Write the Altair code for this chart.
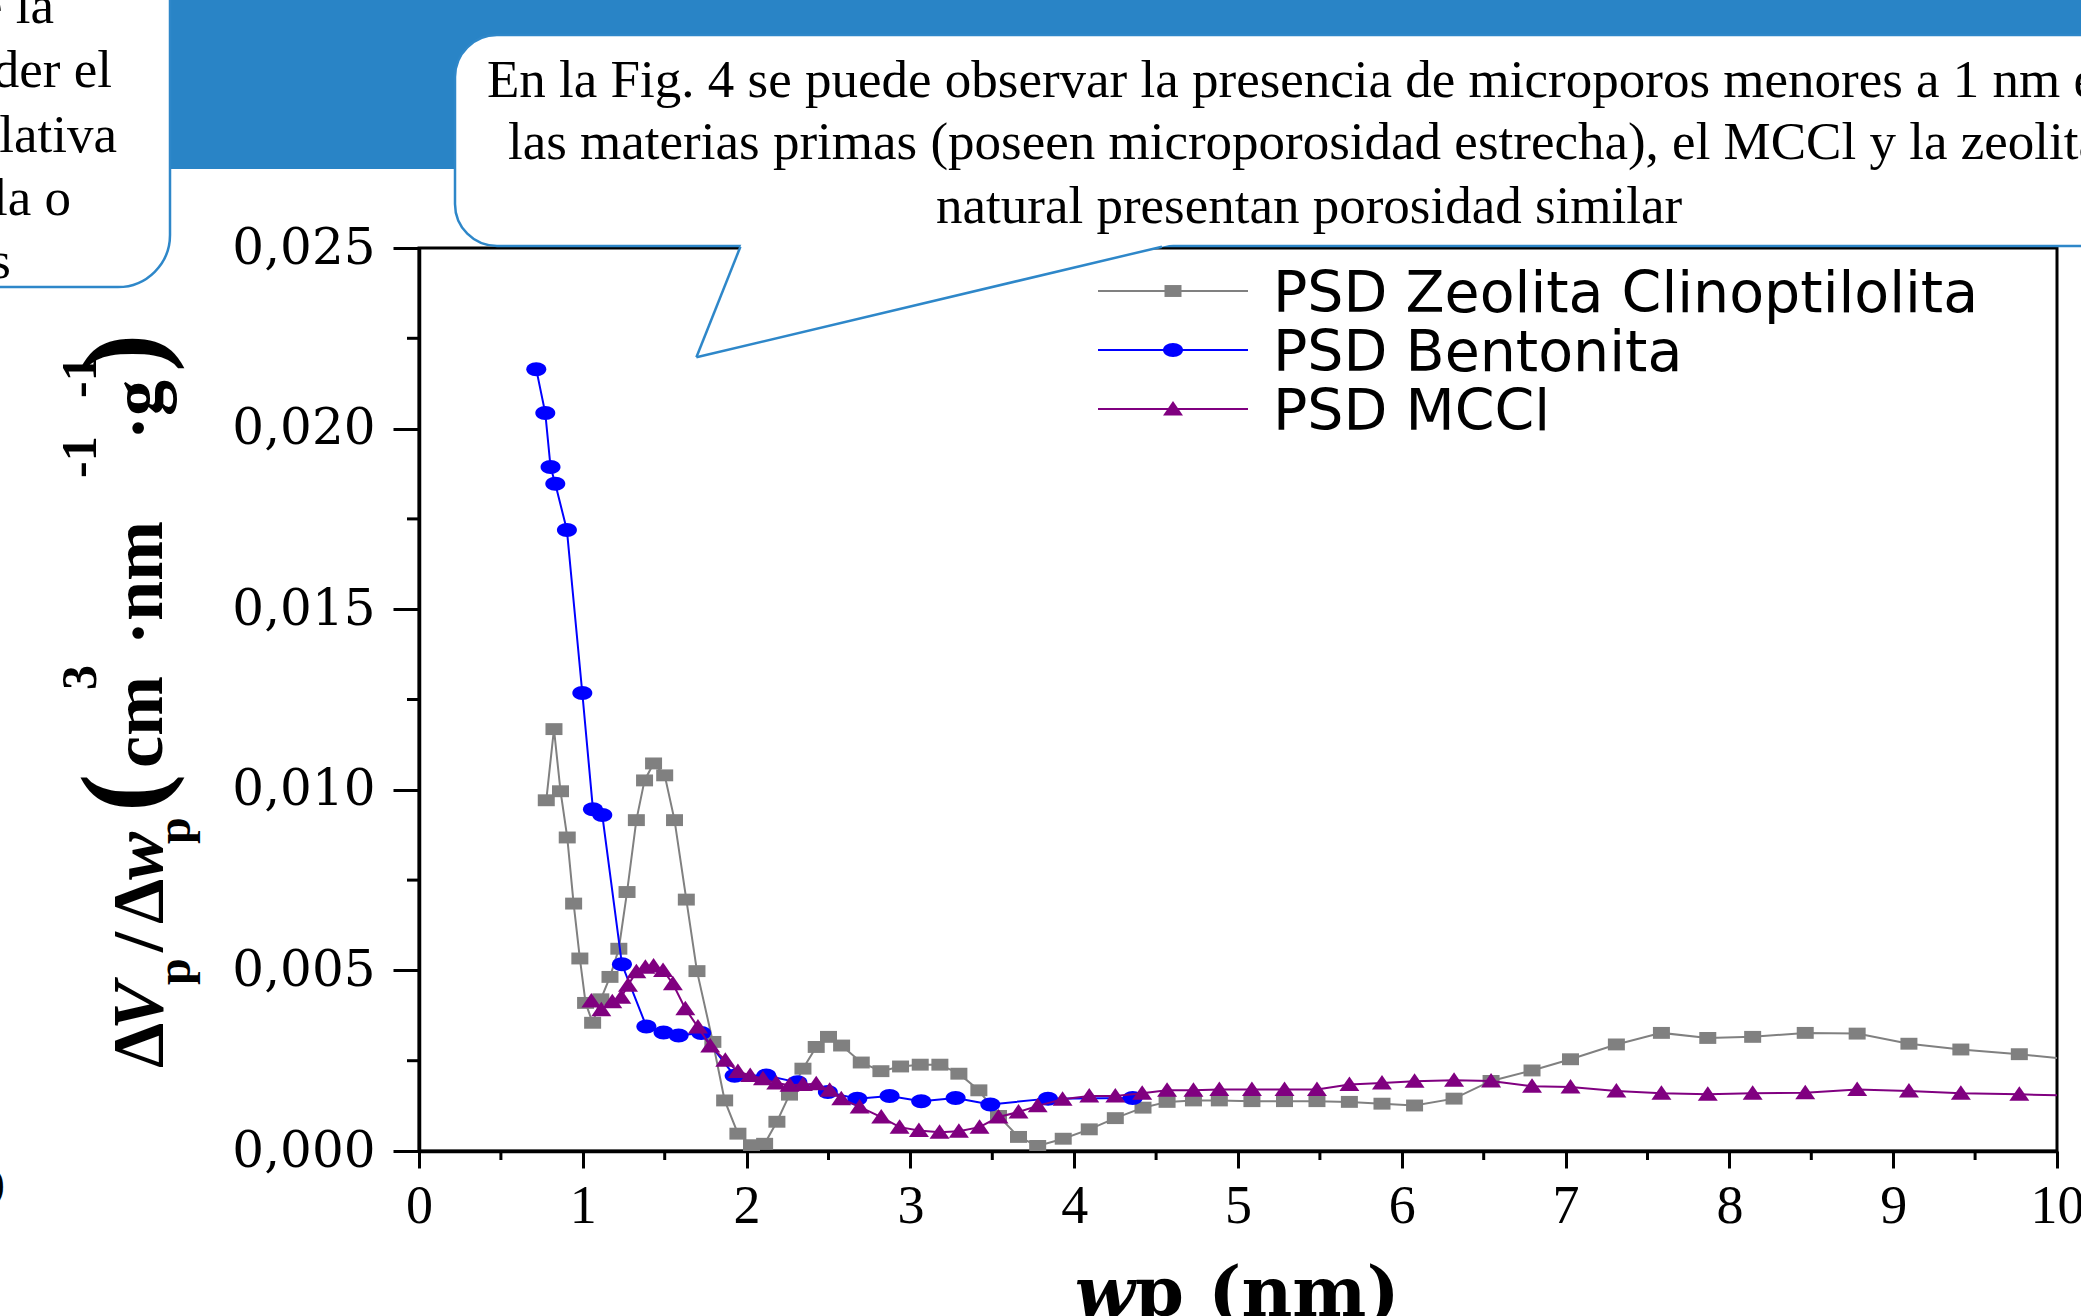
import altair as alt
import pandas as pd

# Pore size distribution (dV/dw) of the three materials
zeolita_wp = [0.777, 0.824, 0.864, 0.905, 0.944, 0.982, 1.017, 1.06, 1.11, 1.166, 1.22, 1.27, 1.327,
              1.377, 1.432, 1.50, 1.56, 1.632, 1.697, 1.794, 1.866, 1.947, 2.03, 2.11, 2.185, 2.262,
              2.344, 2.425, 2.50, 2.58, 2.70, 2.82, 2.94, 3.06, 3.18, 3.296, 3.418, 3.538, 3.66, 3.777,
              3.933, 4.092, 4.251, 4.42, 4.567, 4.728, 4.886, 5.085, 5.284, 5.482, 5.68, 5.879, 6.078,
              6.319, 6.545, 6.795, 7.03, 7.31, 7.585, 7.868, 8.142, 8.463, 8.78, 9.096, 9.413, 9.77, 10.12]
zeolita_dv = [0.00971, 0.01168, 0.00996, 0.00868, 0.00685, 0.00533, 0.0041, 0.00355, 0.0042, 0.00482,
              0.0056, 0.00717, 0.00916, 0.01026, 0.01073, 0.0104, 0.00916, 0.00696, 0.00498, 0.00302,
              0.0014, 0.00048, 0.00016, 0.0002, 0.00081, 0.00156, 0.00228, 0.00288, 0.00316, 0.00292,
              0.00245, 0.00221, 0.00234, 0.00239, 0.00239, 0.00214, 0.00168, 0.00097, 0.00039, 0.00014,
              0.00034, 0.0006, 0.00091, 0.0012, 0.00136, 0.0014, 0.0014, 0.00138, 0.00138, 0.00138,
              0.00136, 0.00131, 0.00126, 0.00145, 0.00194, 0.00223, 0.00254, 0.00295, 0.00327, 0.00313,
              0.00316, 0.00327, 0.00325, 0.00297, 0.00281, 0.00268, 0.00252]

bentonita_wp = [0.716, 0.771, 0.803, 0.832, 0.903, 0.997, 1.062, 1.119, 1.239, 1.388, 1.493, 1.585,
                1.723, 1.927, 2.12, 2.31, 2.496, 2.676, 2.873, 3.066, 3.276, 3.488, 3.84, 4.357]
bentonita_dv = [0.02164, 0.02043, 0.01894, 0.01847, 0.01719, 0.01268, 0.00946, 0.0093, 0.00517,
                0.00345, 0.00328, 0.0032, 0.00327, 0.00208, 0.00209, 0.0019, 0.00163, 0.00145,
                0.00152, 0.00138, 0.00147, 0.00129, 0.00145, 0.00147]

mccl_wp = [1.052, 1.113, 1.18, 1.235, 1.276, 1.327, 1.382, 1.432, 1.49, 1.55, 1.626, 1.703, 1.778,
           1.87, 1.947, 2.022, 2.1, 2.181, 2.262, 2.344, 2.425, 2.507, 2.578, 2.69, 2.822, 2.934,
           3.052, 3.178, 3.296, 3.422, 3.538, 3.66, 3.777, 3.929, 4.092, 4.251, 4.415, 4.567, 4.728,
           4.886, 5.085, 5.284, 5.482, 5.68, 5.879, 6.078, 6.319, 6.545, 6.795, 7.03, 7.31, 7.585,
           7.868, 8.142, 8.463, 8.78, 9.096, 9.413, 9.77, 10.1]
mccl_dv = [0.00415, 0.00391, 0.00413, 0.00426, 0.00459, 0.00496, 0.00509, 0.00512, 0.005, 0.00463,
           0.00394, 0.00343, 0.00291, 0.00251, 0.0022, 0.00209, 0.002, 0.00188, 0.00182, 0.00184,
           0.00186, 0.00168, 0.00145, 0.00122, 0.00094, 0.00066, 0.00057, 0.00052, 0.00055, 0.00066,
           0.00094, 0.00108, 0.00125, 0.00143, 0.00152, 0.00152, 0.0016, 0.00168, 0.00168, 0.0017,
           0.0017, 0.0017, 0.0017, 0.00184, 0.00188, 0.00193, 0.00196, 0.00194, 0.00179, 0.00177,
           0.00166, 0.0016, 0.00157, 0.0016, 0.00161, 0.0017, 0.00166, 0.0016, 0.00157, 0.00153]

series_names = ["PSD Zeolita Clinoptilolita", "PSD Bentonita", "PSD MCCl"]
series_colors = ["#808080", "#0000FF", "#800080"]

x_ticks = list(range(0, 11))
x_minor = [i + 0.5 for i in range(10)]
y_ticks = [0.0, 0.005, 0.010, 0.015, 0.020, 0.025]
y_minor = [0.0025, 0.0075, 0.0125, 0.0175, 0.0225]

callout_lines = [
    "En la Fig. 4 se puede observar la presencia de microporos menores a 1 nm en",
    "las materias primas (poseen microporosidad estrecha), el MCCl y la zeolita",
    "natural presentan porosidad similar",
]
side_lines = ["e la", "der el", "lativa", "la o", "s"]

# plot area geometry (pixels)
W, H = 1638, 903
OX, OY = 419, 248
BLUE_BAND = "#2984C6"
BORDER = "#2E87C9"

SQUARE = "M-1,-0.7L1,-0.7L1,0.7L-1,0.7Z"
ELLIPSE = ("M-1,0C-1,-0.3866,-0.5523,-0.7,0,-0.7C0.5523,-0.7,1,-0.3866,1,0"
           "C1,0.3866,0.5523,0.7,0,0.7C-0.5523,0.7,-1,0.3866,-1,0Z")
TRIANGLE = "M0,-0.8L1,0.65L-1,0.65Z"
shapes = [SQUARE, ELLIPSE, TRIANGLE]
sizes = [289, 400, 400]

X = alt.X("wp:Q", scale=alt.Scale(domain=[0, 10], nice=False, zero=False),
          axis=alt.Axis(values=x_ticks, title=None, grid=False, format="d",
                        labelFont="Liberation Serif", labelFontSize=54, labelColor="black",
                        labelPadding=11, labelFlush=False, labelOverlap=False, labelBound=False,
                        tickSize=17, tickWidth=3, tickColor="black",
                        domainColor="black", domainWidth=3.5))
Y = alt.Y("dv:Q", scale=alt.Scale(domain=[0, 0.025], nice=False, zero=True),
          axis=alt.Axis(values=y_ticks, title=None, grid=False,
                        labelExpr="replace(format(datum.value, '.3f'), '.', ',')",
                        labelFont="DejaVu Serif", labelFontSize=50, labelColor="black",
                        labelPadding=18, labelFlush=False, labelOverlap=False,
                        tickSize=26, tickWidth=3, tickColor="black",
                        domainColor="black", domainWidth=3.5))


def one_row():
    return pd.DataFrame({"k": [0]})


def text_at(txt, x, y, **kw):
    return alt.Chart(pd.DataFrame({"t": [txt]})).mark_text(**kw).encode(
        x=alt.value(x), y=alt.value(y), text="t:N")


def rect_at(x, x2, y, y2, **kw):
    return alt.Chart(one_row()).mark_rect(**kw).encode(
        x=alt.value(x), x2=alt.value(x2), y=alt.value(y), y2=alt.value(y2))


def segment(x, y, x2, y2, **kw):
    return alt.Chart(one_row()).mark_rule(**kw).encode(
        x=alt.value(x), y=alt.value(y), x2=alt.value(x2), y2=alt.value(y2))


layers = []

# slide header band and the side text box
layers.append(rect_at(-OX, 2081 - OX, -OY, 169 - OY, color=BLUE_BAND))
layers.append(rect_at(-700, 170 - OX, -600, 287 - OY, fill="white", stroke=BORDER,
                      strokeWidth=2.5, cornerRadius=52))
for i, s in enumerate(side_lines):
    bx = [54, 112, 117, 71, 11][i]
    by = [23, 87, 152, 215, 278][i]
    layers.append(text_at(s, bx - OX, by - OY, font="Liberation Serif", fontSize=53,
                          align="right", baseline="alphabetic", color="black"))
layers.append(text_at("0", 6 - OX, 1190 - OY, font="DejaVu Serif", fontSize=46,
                      align="right", baseline="middle", color="black"))

# minor ticks
layers.append(alt.Chart(pd.DataFrame({"wp": x_minor})).mark_rule(color="black", strokeWidth=3)
              .encode(x=X, y=alt.value(H), y2=alt.value(H + 9)))
layers.append(alt.Chart(pd.DataFrame({"dv": y_minor})).mark_rule(color="black", strokeWidth=3)
              .encode(y=Y, x=alt.value(-12), x2=alt.value(0)))

# data series
series = [(zeolita_wp, zeolita_dv, True), (bentonita_wp, bentonita_dv, False), (mccl_wp, mccl_dv, True)]
for k, (xs, ys, clip) in enumerate(series):
    df = pd.DataFrame({"wp": xs, "dv": ys, "serie": series_names[k]})
    layers.append(alt.Chart(df).mark_line(color=series_colors[k], strokeWidth=2, clip=clip)
                  .encode(x=X, y=Y))
    layers.append(alt.Chart(df).mark_point(shape=shapes[k], size=sizes[k], filled=True,
                                           color=series_colors[k], opacity=1, strokeWidth=0,
                                           clip=clip)
                  .encode(x=X, y=Y))

# legend
row_y = [291, 350, 409]
text_y = [312, 371, 430]
for k in range(3):
    ry = row_y[k] - OY
    layers.append(segment(1098 - OX, ry, 1248 - OX, ry, color=series_colors[k], strokeWidth=2))
    layers.append(alt.Chart(one_row()).mark_point(shape=shapes[k], size=sizes[k], filled=True,
                                                  color=series_colors[k], opacity=1, strokeWidth=0)
                  .encode(x=alt.value(1173 - OX), y=alt.value(ry)))
    layers.append(text_at(series_names[k], 1273 - OX, text_y[k] - OY, font="DejaVu Sans",
                          fontSize=57, align="left", baseline="alphabetic", color="black"))

# speech-bubble callout over the plot
layers.append(rect_at(455 - OX, 2400 - OX, 35 - OY, 246 - OY, fill="white", stroke=BORDER,
                      strokeWidth=2.5, cornerRadius=42))
layers.append(alt.Chart(one_row()).mark_point(shape="M324.1,-8L277.4,109.3L771.2,-8Z", size=4,
                                              filled=True, color="white", opacity=1, strokeWidth=0)
              .encode(x=alt.value(0), y=alt.value(0)))
layers.append(segment(321.4, -1.3, 277.4, 109.3, color=BORDER, strokeWidth=2.5))
layers.append(segment(277.4, 109.3, 743, -1.3, color=BORDER, strokeWidth=2.5))
for txt, lx, ly in zip(callout_lines, [487, 508, 936], [97, 159, 223]):
    layers.append(text_at(txt, lx - OX, ly - OY, font="Liberation Serif", fontSize=53,
                          align="left", baseline="alphabetic", color="black"))

# y-axis title, built piece by piece (sub/superscripts)
ytitle = [
    ("Δ", 72, "normal", 162, 1068),
    ("V", 72, "italic", 162, 1030),
    ("p", 48, "normal", 190, 985),
    ("/", 72, "normal", 162, 952),
    ("Δ", 72, "normal", 162, 924),
    ("w", 72, "italic", 162, 880),
    ("p", 48, "normal", 190, 844),
    ("(", 115, "normal", 160, 812),
    ("cm", 72, "normal", 162, 768),
    ("3", 50, "normal", 96, 690),
    ("·nm", 72, "normal", 162, 645),
    ("-1", 50, "normal", 96, 478),
    ("·g", 72, "normal", 162, 440),
    ("-1", 50, "normal", 96, 398),
    (")", 115, "normal", 160, 372),
]
for txt, fs, style, bx, sy in ytitle:
    layers.append(text_at(txt, bx - OX, sy - OY, font="Liberation Serif", fontSize=fs,
                          fontWeight="bold", fontStyle=style, angle=270, align="left",
                          baseline="alphabetic", color="black"))

# x-axis title
layers.append(text_at("w", 1135 - OX, 1316 - OY, font="DejaVu Serif", fontSize=70,
                      fontWeight="bold", fontStyle="italic", align="right",
                      baseline="alphabetic", color="black"))
layers.append(text_at("p (nm)", 1135 - OX, 1316 - OY, font="DejaVu Serif", fontSize=70,
                      fontWeight="bold", align="left", baseline="alphabetic", color="black"))

chart = alt.layer(*layers).properties(
    width=W, height=H,
    autosize=alt.AutoSizeParams(type="none"),
    padding={"left": OX, "top": OY, "right": 2081 - OX - W, "bottom": 1316 - OY - H},
    background="white",
).configure_view(stroke="black", strokeWidth=3)

chart.save("out.html", embed_options={"renderer": "svg", "actions": False})
